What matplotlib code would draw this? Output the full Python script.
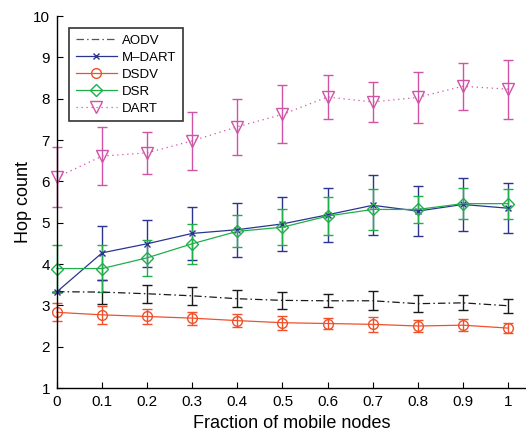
import matplotlib
matplotlib.use("Agg")
import matplotlib.pyplot as plt
from matplotlib.lines import Line2D

plt.rcParams['font.family'] = ['Liberation Sans', 'DejaVu Sans']

fraction = [0, 0.1, 0.2, 0.3, 0.4, 0.5, 0.6, 0.7, 0.8, 0.9, 1.0]

aodv = [3.33, 3.32, 3.28, 3.23, 3.16, 3.12, 3.11, 3.11, 3.04, 3.06, 2.99]
aodv_err = [0.0, 0.29, 0.22, 0.22, 0.20, 0.21, 0.16, 0.23, 0.20, 0.18, 0.17]

mdart = [3.33, 4.27, 4.49, 4.74, 4.83, 4.97, 5.19, 5.42, 5.28, 5.44, 5.35]
mdart_err = [0.0, 0.65, 0.57, 0.64, 0.65, 0.65, 0.65, 0.73, 0.60, 0.65, 0.60]

dsdv = [2.83, 2.77, 2.73, 2.69, 2.63, 2.58, 2.56, 2.54, 2.50, 2.52, 2.45]
dsdv_err = [0.22, 0.22, 0.18, 0.16, 0.15, 0.17, 0.13, 0.18, 0.14, 0.14, 0.12]

dsr = [3.89, 3.89, 4.15, 4.49, 4.79, 4.89, 5.16, 5.32, 5.32, 5.46, 5.46]
dsr_err = [0.56, 0.57, 0.44, 0.48, 0.39, 0.43, 0.47, 0.49, 0.33, 0.38, 0.36]

dart = [6.10, 6.61, 6.69, 6.98, 7.32, 7.62, 8.04, 7.92, 8.03, 8.30, 8.23]
dart_err = [0.73, 0.71, 0.51, 0.70, 0.68, 0.70, 0.54, 0.49, 0.61, 0.57, 0.71]

x_ticks = [0, 0.1, 0.2, 0.3, 0.4, 0.5, 0.6, 0.7, 0.8, 0.9, 1]
x_tick_labels = ['0', '0.1', '0.2', '0.3', '0.4', '0.5', '0.6', '0.7', '0.8', '0.9', '1']
y_ticks = list(range(1, 11))

fig = plt.figure(figsize=(5.26, 4.36), dpi=100)
ax = fig.add_axes([57 / 526, 48 / 436, 469 / 526, 372 / 436])

series = [
    ('AODV', aodv, aodv_err, '#1a1a1a', (0, (6, 2.5, 1.2, 2.5)), None),
    ('M\u2013DART', mdart, mdart_err, '#2b3590', '-', 'x'),
    ('DSDV', dsdv, dsdv_err, '#f0502a', '-', 'o'),
    ('DSR', dsr, dsr_err, '#1fae4a', '-', 'D'),
    ('DART', dart, dart_err, '#d153a6', (0, (1, 3)), 'v'),
]

msizes = {'x': 5, 'o': 7, 'D': 6, 'v': 8, None: 0}
handles = []
for name, vals, errs, color, ls, marker in series:
    ax.errorbar(fraction, vals, yerr=errs, color=color, linestyle=ls,
                linewidth=0.9, marker=marker, markersize=msizes[marker],
                markerfacecolor='none', markeredgecolor=color,
                markeredgewidth=1.0, elinewidth=1.0, capsize=3.6,
                capthick=1.0, ecolor=color, clip_on=False)
    handles.append(Line2D([], [], color=color if marker else '#555555',
                          linestyle=ls, linewidth=0.9, marker=marker,
                          markersize=msizes[marker], markerfacecolor='none',
                          markeredgecolor=color, markeredgewidth=1.0,
                          label=name))

ax.set_xlim(0, 1.04)
ax.set_ylim(1, 10)
ax.set_xticks(x_ticks)
ax.set_xticklabels(x_tick_labels)
ax.set_yticks(y_ticks)
ax.spines['top'].set_visible(False)
ax.spines['right'].set_visible(False)
for s in ('left', 'bottom'):
    ax.spines[s].set_linewidth(1.0)
ax.tick_params(direction='in', length=4, width=0.8, labelsize=11, pad=5)

ax.set_xlabel('Fraction of mobile nodes', fontsize=13, labelpad=4)
ax.set_ylabel('Hop count', fontsize=13, labelpad=1)

leg = ax.legend(handles=handles, loc='upper left',
                bbox_to_anchor=(12 / 469, 1 - 12 / 372),
                borderaxespad=0, fontsize=9.5, frameon=True, fancybox=False,
                handlelength=3.1, handletextpad=0.4, labelspacing=0.36,
                borderpad=0.5)
leg.get_frame().set_edgecolor('black')
leg.get_frame().set_linewidth(1.2)

fig.savefig('out.png', dpi=100)
